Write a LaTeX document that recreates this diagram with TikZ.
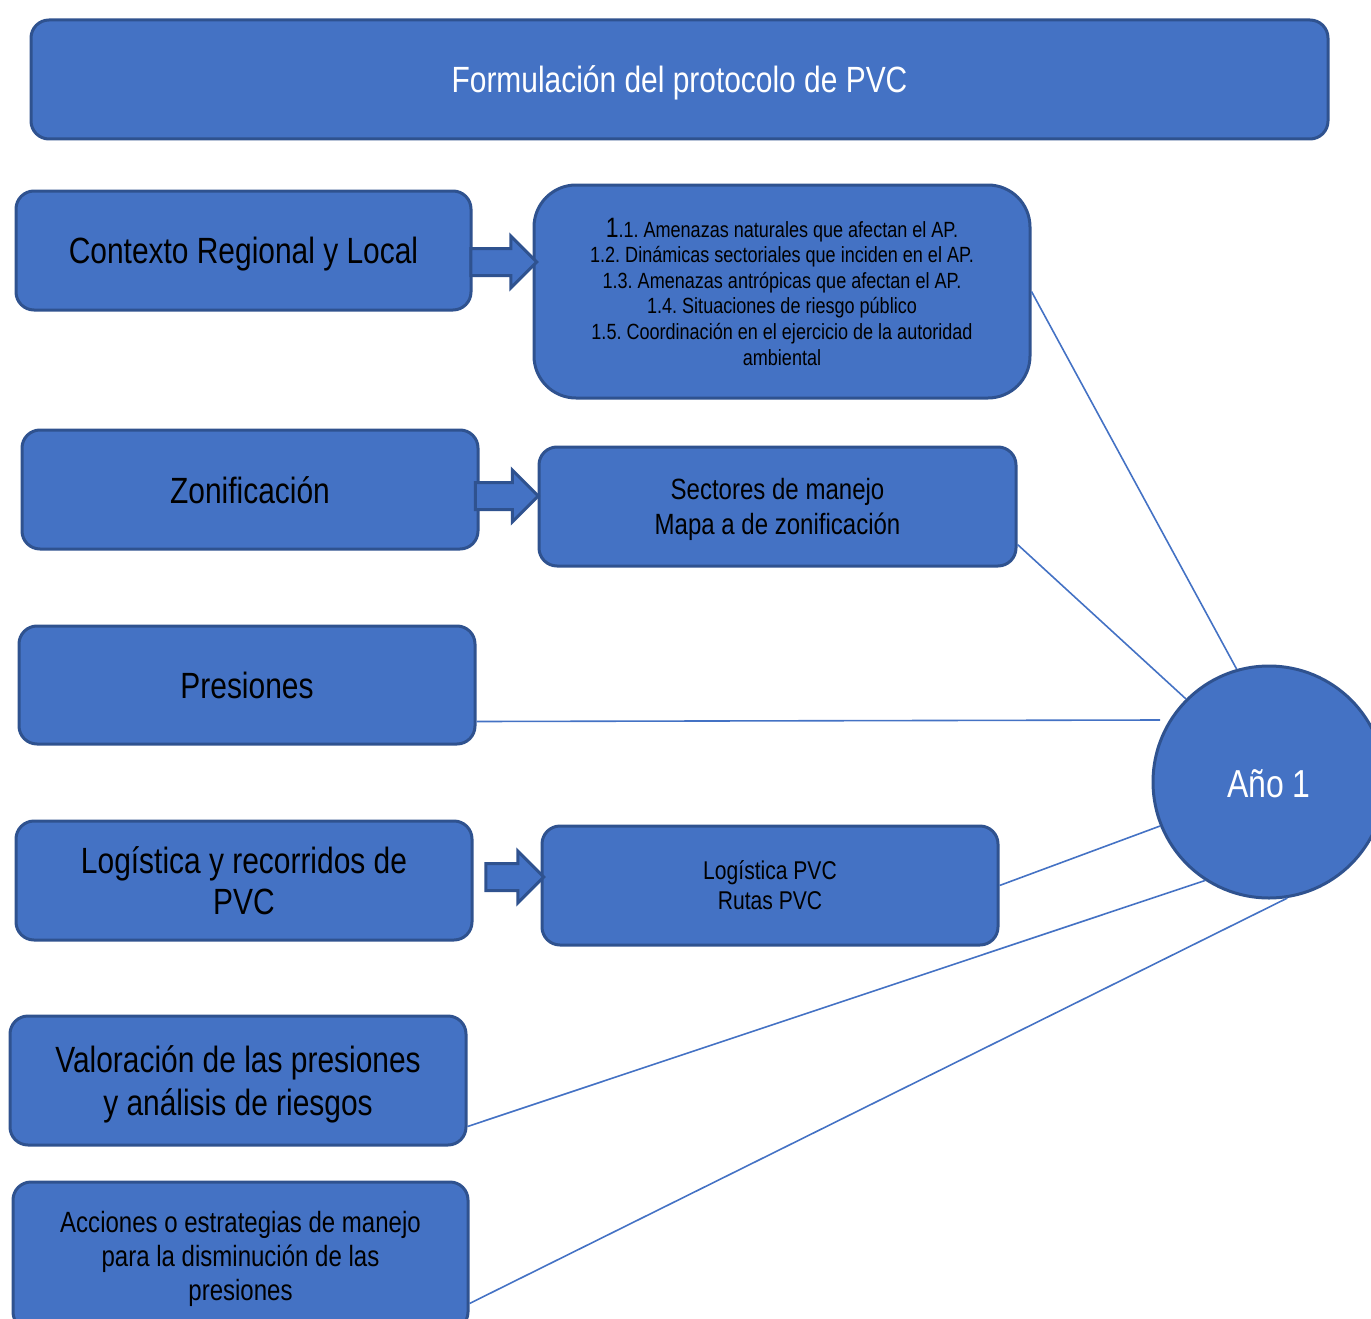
\documentclass[tikz,border=0pt]{standalone}
\usepackage{fontspec}
\setmainfont{Liberation Sans}[FakeStretch=0.82]
\usetikzlibrary{calc,shapes.arrows}
\definecolor{bfill}{HTML}{4472C4}
\definecolor{bdraw}{HTML}{2F528F}
\newcommand{\fsz}[2]{\fontsize{#1}{#2}\selectfont}
\frenchspacing
\tikzset{
  box/.style={draw=bdraw, fill=bfill, line width=3pt, rounded corners=18pt, align=center, inner sep=0pt, text=black, text depth=0pt},
  barrow/.style={draw=bdraw, fill=bfill, line width=3pt, single arrow, single arrow head extend=12.5pt, inner xsep=0pt, inner ysep=12pt, shape border rotate=0},
  conn/.style={draw=bfill, line width=1.6pt},
}
\begin{document}
\frenchspacing
\begin{tikzpicture}[x=1pt,y=-1pt]
\useasboundingbox (0,0) rectangle (1371,1319);
\clip (0,0) rectangle (1371,1319);
% title
\node[box, text=white, minimum width=1297pt, minimum height=119pt, font=\fsz{36.5}{40}] (title) at (679.5,79.5)
  {Formulación del protocolo de PVC};
% left column
\node[box, minimum width=455pt, minimum height=119pt, font=\fsz{36.5}{41}] (ctx) at (243.5,250.5)
  {Contexto Regional y Local};
\node[box, minimum width=456pt, minimum height=119pt, font=\fsz{36.5}{41}] (zon) at (250,489.5)
  {\raisebox{-2pt}{Zonificación}};
\node[box, minimum width=456pt, minimum height=118pt, font=\fsz{36.5}{41}] (pres) at (247,685)
  {Presiones};
\node[box, minimum width=456pt, minimum height=119pt, font=\fsz{36.5}{41}, text depth=-6pt] (log) at (244,880.5)
  {Logística y recorridos de\\PVC};
\node[box, minimum width=456pt, minimum height=129pt, font=\fsz{36.5}{43.5}] (val) at (238,1080.5)
  {Valoración de las presiones\\y análisis de riesgos};
\node[box, minimum width=455pt, minimum height=148pt, font=\fsz{29.3}{34}] (acc) at (240.5,1256)
  {Acciones o estrategias de manejo\\para la disminución de las\\presiones};
% right column
\node[box, rounded corners=42pt, minimum width=496pt, minimum height=213pt, font=\fsz{22}{25.6}] (amen) at (782,291.5)
  {{\fsz{28}{25.6}1}.1. Amenazas naturales que afectan el AP.\\
   1.2. Dinámicas sectoriales que inciden en el AP.\\
   1.3. Amenazas antrópicas que afectan el AP.\\
   1.4. Situaciones de riesgo público\\
   1.5. Coordinación en el ejercicio de la autoridad\\
   ambiental};
\node[box, minimum width=477pt, minimum height=119pt, font=\fsz{29.3}{35}] (sect) at (777.5,506.5)
  {Sectores de manejo\\Mapa a de zonificación};
\node[box, minimum width=456pt, minimum height=119pt, font=\fsz{25.7}{30}] (logp) at (770,885.5)
  {Logística PVC\\Rutas PVC};
% year circle
\node[draw=bdraw, fill=bfill, line width=3pt, circle, minimum size=232pt, inner sep=0pt, text=white, text depth=0pt, font=\fsz{39}{42}] (yr) at (1269,782)
  {\raisebox{-4pt}{Año 1}};
% block arrows
\node[barrow, minimum height=66pt, minimum width=49pt] (a1) at (497,262) {};
\node[barrow, minimum height=63pt, minimum width=47pt] (a2) at (500,496) {};
\node[barrow, minimum height=58pt, minimum width=50pt] (a3) at (508,877) {};
% connectors
\coordinate (presend) at (1160,720);
\draw[conn] (amen.east) -- (yr.106);
\draw[conn] ($(sect.south east)+(0,-23)$) -- (yr.135);
\draw[conn] ($(pres.south east)+(0,-24)$) -- (presend);
\draw[conn] (logp.east) -- (yr.202);
\draw[conn] ($(val.south east)+(0,-20)$) -- (yr.237);
\draw[conn] ($(acc.north east)+(0,123)$) -- (yr.279);
\end{tikzpicture}
\end{document}
